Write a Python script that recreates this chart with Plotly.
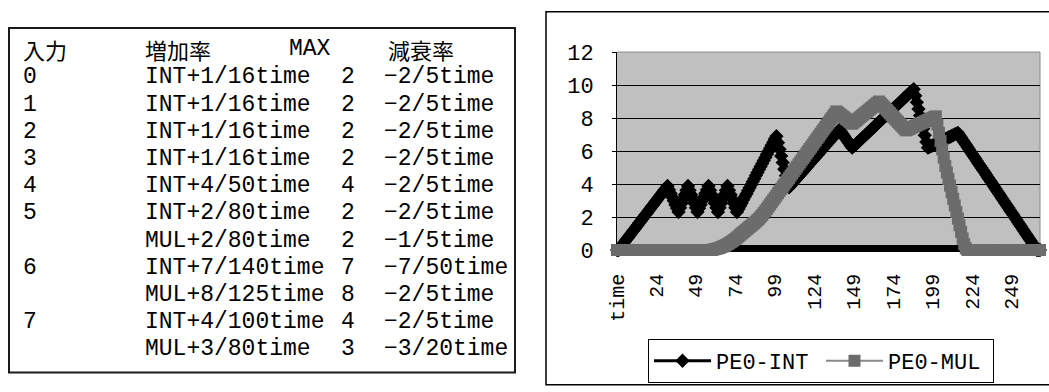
import plotly.graph_objects as go

# ---- chart data -------------------------------------------------------------
# category axis: header cell "time" followed by the time steps 0..267
time_labels = ["time"] + [str(t) for t in range(268)]

pe0_int = [
    0, 0, 0.13, 0.25, 0.38, 0.5, 0.63, 0.75, 0.88, 1.0,
    1.13, 1.25, 1.38, 1.5, 1.63, 1.75, 1.88, 2.0, 2.13, 2.25,
    2.38, 2.5, 2.63, 2.75, 2.88, 3.0, 3.13, 3.25, 3.38, 3.5,
    3.63, 3.75, 3.88, 3.65, 3.43, 3.2, 2.98, 2.75, 2.53, 2.3,
    2.56, 2.83, 3.09, 3.35, 3.62, 3.88, 3.62, 3.35, 3.09, 2.83,
    2.56, 2.3, 2.53, 2.75, 2.98, 3.2, 3.43, 3.65, 3.88, 3.62,
    3.35, 3.09, 2.83, 2.56, 2.3, 2.56, 2.83, 3.09, 3.35, 3.62,
    3.88, 3.62, 3.35, 3.09, 2.83, 2.56, 2.3, 2.48, 2.67, 2.85,
    3.04, 3.22, 3.4, 3.59, 3.77, 3.96, 4.14, 4.32, 4.51, 4.69,
    4.88, 5.06, 5.24, 5.43, 5.61, 5.8, 5.98, 6.16, 6.35, 6.53,
    6.72, 6.9, 6.5, 6.1, 5.7, 5.3, 4.9, 4.5, 4.1, 3.8,
    3.91, 4.02, 4.13, 4.24, 4.35, 4.46, 4.56, 4.67, 4.78, 4.89,
    5.0, 5.11, 5.22, 5.33, 5.44, 5.55, 5.65, 5.76, 5.87, 5.98,
    6.09, 6.2, 6.31, 6.42, 6.53, 6.64, 6.74, 6.85, 6.96, 7.07,
    7.18, 7.3, 7.16, 7.03, 6.89, 6.75, 6.61, 6.48, 6.34, 6.2,
    6.29, 6.38, 6.47, 6.56, 6.66, 6.75, 6.84, 6.93, 7.02, 7.11,
    7.2, 7.29, 7.38, 7.47, 7.57, 7.66, 7.75, 7.84, 7.93, 8.02,
    8.11, 8.2, 8.29, 8.38, 8.48, 8.57, 8.66, 8.75, 8.84, 8.93,
    9.02, 9.11, 9.2, 9.29, 9.39, 9.48, 9.57, 9.66, 9.75, 9.35,
    8.95, 8.55, 8.15, 7.75, 7.35, 6.95, 6.55, 6.2, 6.25, 6.29,
    6.34, 6.39, 6.44, 6.48, 6.53, 6.58, 6.63, 6.67, 6.72, 6.77,
    6.82, 6.86, 6.91, 6.96, 7.01, 7.05, 7.1, 6.96, 6.82, 6.67,
    6.53, 6.39, 6.25, 6.11, 5.96, 5.82, 5.68, 5.54, 5.4, 5.25,
    5.11, 4.97, 4.83, 4.69, 4.54, 4.4, 4.26, 4.12, 3.98, 3.83,
    3.69, 3.55, 3.41, 3.27, 3.12, 2.98, 2.84, 2.7, 2.56, 2.41,
    2.27, 2.13, 1.99, 1.85, 1.7, 1.56, 1.42, 1.28, 1.14, 0.99,
    0.85, 0.71, 0.57, 0.43, 0.28, 0.14, 0, 0, 0,
]

pe0_mul = [
    0, 0, 0, 0, 0, 0, 0, 0, 0, 0,
    0, 0, 0, 0, 0, 0, 0, 0, 0, 0,
    0, 0, 0, 0, 0, 0, 0, 0, 0, 0,
    0, 0, 0, 0, 0, 0, 0, 0, 0, 0,
    0, 0, 0, 0, 0, 0, 0, 0, 0, 0,
    0, 0, 0, 0, 0, 0, 0, 0, 0, 0,
    0, 0.03, 0.05, 0.08, 0.1, 0.13, 0.17, 0.21, 0.25, 0.3,
    0.35, 0.41, 0.47, 0.53, 0.6, 0.67, 0.75, 0.83, 0.92, 1.0,
    1.08, 1.16, 1.24, 1.32, 1.4, 1.48, 1.56, 1.64, 1.72, 1.81,
    1.9, 2.01, 2.12, 2.24, 2.37, 2.5, 2.63, 2.77, 2.9, 3.03,
    3.17, 3.3, 3.44, 3.57, 3.7, 3.84, 3.97, 4.11, 4.24, 4.37,
    4.51, 4.64, 4.78, 4.91, 5.04, 5.18, 5.31, 5.45, 5.58, 5.71,
    5.85, 5.98, 6.12, 6.25, 6.38, 6.52, 6.65, 6.79, 6.92, 7.05,
    7.19, 7.32, 7.46, 7.59, 7.72, 7.86, 7.99, 8.13, 8.26, 8.4,
    8.33, 8.25, 8.18, 8.1, 8.03, 7.95, 7.88, 7.8, 7.73, 7.65,
    7.73, 7.81, 7.89, 7.97, 8.05, 8.13, 8.21, 8.29, 8.36, 8.44,
    8.52, 8.6, 8.68, 8.76, 8.84, 8.92, 9.0, 8.9, 8.79, 8.69,
    8.59, 8.49, 8.38, 8.28, 8.18, 8.07, 7.97, 7.87, 7.76, 7.66,
    7.56, 7.46, 7.35, 7.25, 7.29, 7.34, 7.38, 7.43, 7.47, 7.52,
    7.56, 7.61, 7.65, 7.7, 7.74, 7.79, 7.83, 7.88, 7.92, 7.97,
    8.01, 8.06, 8.1, 7.6, 7.1, 6.6, 6.1, 5.6, 5.1, 4.7,
    4.3, 3.9, 3.5, 3.1, 2.7, 2.3, 1.9, 1.5, 1.1, 0.7,
    0.35, 0.1, 0, 0, 0, 0, 0, 0, 0, 0,
    0, 0, 0, 0, 0, 0, 0, 0, 0, 0,
    0, 0, 0, 0, 0, 0, 0, 0, 0, 0,
    0, 0, 0, 0, 0, 0, 0, 0, 0, 0,
    0, 0, 0, 0, 0, 0, 0, 0, 0,
]

y_ticks = [0, 2, 4, 6, 8, 10, 12]

# ---- parameter table ----------------------------------------------------------
table_header = ["入力", "増加率", "MAX", "減衰率"]
table_input = ["0", "1", "2", "3", "4", "5", "", "6", "", "7", ""]
table_rate = ["INT+1/16time", "INT+1/16time", "INT+1/16time", "INT+1/16time",
              "INT+4/50time", "INT+2/80time", "MUL+2/80time", "INT+7/140time",
              "MUL+8/125time", "INT+4/100time", "MUL+3/80time"]
table_max = ["2", "2", "2", "2", "4", "2", "2", "7", "8", "4", "3"]
table_decay = ["−2/5time", "−2/5time", "−2/5time", "−2/5time", "−2/5time",
               "−2/5time", "−1/5time", "−7/50time", "−2/5time", "−2/5time",
               "−3/20time"]

# ---- page geometry (pixels) ---------------------------------------------------
W, H = 1049, 392
PLOT_L, PLOT_R, PLOT_T, PLOT_B = 617, 1040, 52, 259


def px(x):
    return (x - PLOT_L) / (PLOT_R - PLOT_L)


def py(y):
    return (PLOT_B - y) / (PLOT_B - PLOT_T)


FONT = "Liberation Mono, DejaVu Sans Mono, Noto Sans CJK JP, monospace"
CJK_FONT = "Noto Sans CJK JP, sans-serif"
x_pos = list(range(len(time_labels)))

fig = go.Figure()
fig.add_trace(go.Scatter(
    x=x_pos, y=pe0_int, name="PE0-INT", mode="lines+markers",
    line=dict(color="#000000", width=3),
    marker=dict(symbol="diamond", size=11, color="#000000"),
    cliponaxis=False,
))
fig.add_trace(go.Scatter(
    x=x_pos, y=pe0_mul, name="PE0-MUL", mode="lines+markers",
    line=dict(color="#8a8a8a", width=2),
    marker=dict(symbol="square", size=12, color="#6c6c6c"),
    cliponaxis=False,
))

shapes = [
    # plot-area frame (top and right edges)
    dict(type="line", xref="paper", yref="paper", x0=0, x1=1, y0=1, y1=1,
         line=dict(color="#8c8c8c", width=1), layer="between"),
    dict(type="line", xref="paper", yref="paper", x0=1, x1=1, y0=0, y1=1,
         line=dict(color="#8c8c8c", width=1), layer="between"),
    # chart frame
    dict(type="rect", xref="paper", yref="paper",
         x0=px(546), x1=px(1056), y0=py(400), y1=py(10),
         line=dict(color="#000000", width=1.5), layer="below"),
    # table frame
    dict(type="rect", xref="paper", yref="paper",
         x0=px(9), x1=px(515), y0=py(387), y1=py(27),
         line=dict(color="#1a1a1a", width=2), layer="below"),
]

annotations = []
row_y = [48.5] + [78.5 + 28.45 * i for i in range(11)]


def cell(text, x, y, anchor="left", family=FONT, size=23):
    annotations.append(dict(
        text=text, xref="paper", yref="paper", x=px(x), y=py(y),
        xanchor=anchor, yanchor="middle", showarrow=False,
        font=dict(family=family, size=size, color="#000000"),
    ))


cell(table_header[0], 21, row_y[0], family=CJK_FONT, size=22)
cell(table_header[1], 143, row_y[0], family=CJK_FONT, size=22)
cell(table_header[2], 310, row_y[0], "center")
cell(table_header[3], 386, row_y[0], family=CJK_FONT, size=22)
for i in range(len(table_rate)):
    y = row_y[i + 1]
    if table_input[i]:
        cell(table_input[i], 21, y)
    cell(table_rate[i], 143, y)
    cell(table_max[i], 348, y, "center")
    cell(table_decay[i], 382, y)

fig.update_layout(
    width=W, height=H,
    margin=dict(l=PLOT_L, r=W - PLOT_R, t=PLOT_T, b=H - PLOT_B, pad=0),
    paper_bgcolor="#ffffff", plot_bgcolor="#c0c0c0",
    font=dict(family=FONT, size=22, color="#000000"),
    showlegend=True,
    legend=dict(
        orientation="h", x=px(648), y=py(352), xanchor="left", yanchor="top",
        bordercolor="#000000", borderwidth=1, bgcolor="#ffffff",
        font=dict(family=FONT, size=22), itemwidth=57,
        entrywidth=100,
    ),
    xaxis=dict(
        range=[0, len(time_labels) - 1], tickmode="array",
        tickvals=x_pos[::25], ticktext=time_labels[::25], tickangle=-90,
        tickfont=dict(size=20), ticks="inside", ticklen=5, tickcolor="#000000",
        minor=dict(dtick=1, tick0=0, ticks="inside", ticklen=5,
                   tickcolor="#000000", tickwidth=1.5, showgrid=False),
        showline=True, linecolor="#000000", linewidth=1.5,
        showgrid=False, zeroline=False, layer="below traces",
        ticklabelstandoff=14,
    ),
    yaxis=dict(
        range=[0, 12], tickmode="array", tickvals=y_ticks,
        ticks="outside", ticklen=4, tickcolor="#000000",
        showline=True, linecolor="#000000", linewidth=1,
        showgrid=True, gridcolor="#000000", gridwidth=1,
        zeroline=False, layer="below traces", ticklabelstandoff=14,
    ),
    shapes=shapes,
    annotations=annotations,
)

fig.write_html("out.html")
